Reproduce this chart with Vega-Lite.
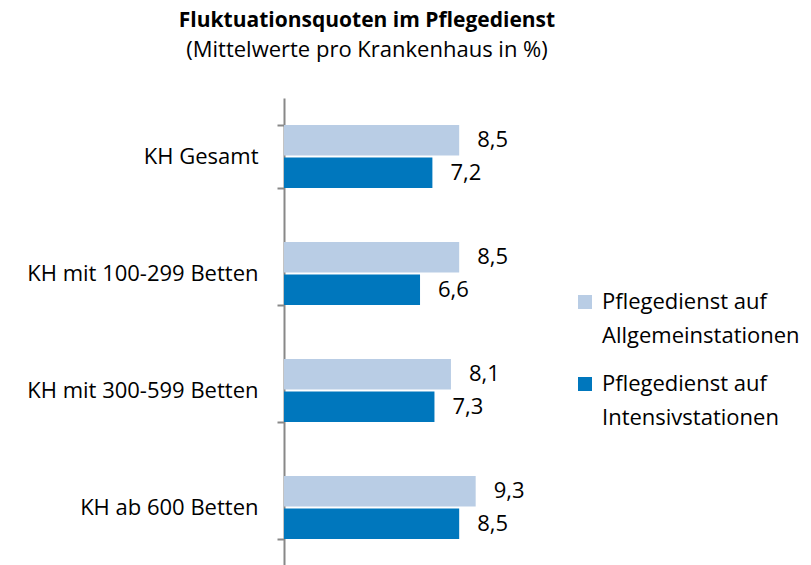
{
  "$schema": "https://vega.github.io/schema/vega-lite/v6.json",
  "width": 270,
  "height": 468,
  "padding": {"left": 26, "top": 10, "right": 5, "bottom": 0},
  "config": {
    "locale": {"number": {"decimal": ",", "thousands": ".", "grouping": [3], "currency": ["", " €"]}},
    "view": {"stroke": null},
    "font": "Open Sans",
    "style": {"guide-label": {"lineHeight": 34}}
  },
  "title": {
    "text": "Fluktuationsquoten im Pflegedienst",
    "subtitle": "(Mittelwerte pro Krankenhaus in %)",
    "anchor": "middle",
    "frame": "group",
    "dx": -52,
    "font": "Open Sans",
    "fontSize": 21,
    "fontWeight": "bold",
    "subtitleFont": "Open Sans",
    "subtitleFontSize": 22,
    "subtitleColor": "#000000",
    "color": "#000000",
    "subtitlePadding": 9,
    "offset": 26
  },
  "data": {
    "values": [
      {"gruppe": "KH Gesamt", "serie": "Pflegedienst auf Allgemeinstationen", "wert": 8.5},
      {"gruppe": "KH Gesamt", "serie": "Pflegedienst auf Intensivstationen", "wert": 7.2},
      {"gruppe": "KH mit 100-299 Betten", "serie": "Pflegedienst auf Allgemeinstationen", "wert": 8.5},
      {"gruppe": "KH mit 100-299 Betten", "serie": "Pflegedienst auf Intensivstationen", "wert": 6.6},
      {"gruppe": "KH mit 300-599 Betten", "serie": "Pflegedienst auf Allgemeinstationen", "wert": 8.1},
      {"gruppe": "KH mit 300-599 Betten", "serie": "Pflegedienst auf Intensivstationen", "wert": 7.3},
      {"gruppe": "KH ab 600 Betten", "serie": "Pflegedienst auf Allgemeinstationen", "wert": 9.3},
      {"gruppe": "KH ab 600 Betten", "serie": "Pflegedienst auf Intensivstationen", "wert": 8.5}
    ]
  },
  "encoding": {
    "y": {
      "field": "gruppe",
      "type": "nominal",
      "sort": null,
      "title": null,
      "scale": {"paddingInner": 0.46, "paddingOuter": 0.23},
      "axis": {
        "tickBand": "extent",
        "domainColor": "#888888",
        "domainWidth": 2,
        "tickColor": "#888888",
        "tickWidth": 2,
        "tickSize": 7,
        "labelFontSize": 22,
        "labelColor": "#000000",
        "labelPadding": 19,
        "labelLimit": 400,
        "labelFont": "Open Sans"
      }
    },
    "yOffset": {
      "field": "serie",
      "type": "nominal",
      "scale": {"paddingInner": 0.06}
    },
    "x": {
      "field": "wert",
      "type": "quantitative",
      "scale": {"domain": [0, 13.1]},
      "axis": null
    }
  },
  "layer": [
    {
      "mark": {"type": "bar"},
      "encoding": {
        "color": {
          "field": "serie",
          "type": "nominal",
          "scale": {"range": ["#B9CDE5", "#0077BD"]},
          "legend": {
            "title": null,
            "orient": "none",
            "legendX": 290,
            "legendY": 200,
            "symbolType": "M-1,-2H1V0H-1Z",
            "symbolSize": 196,
            "symbolStrokeWidth": 0,
            "labelFontSize": 22,
            "labelColor": "#000000",
            "labelFont": "Open Sans",
            "labelLimit": 300,
            "rowPadding": 26,
            "labelOffset": 6,
            "labelExpr": "datum.label == 'Pflegedienst auf Allgemeinstationen' ? ['Pflegedienst auf', 'Allgemeinstationen'] : ['Pflegedienst auf', 'Intensivstationen']",
            "labelBaseline": "alphabetic"
          }
        }
      }
    },
    {
      "mark": {"type": "text", "align": "left", "dx": 18, "fontSize": 22, "color": "#000000", "font": "Open Sans"},
      "encoding": {
        "text": {"field": "wert", "type": "quantitative", "format": ".1f"}
      }
    }
  ]
}
